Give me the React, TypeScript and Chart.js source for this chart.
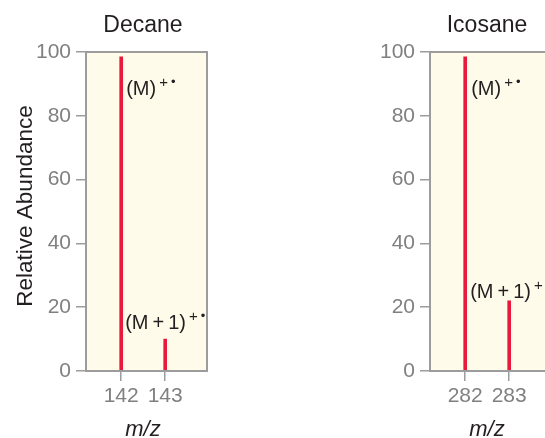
import React, { useEffect, useRef } from 'react';
import Chart from 'chart.js/auto';

const FONT = '"Liberation Sans", Arial, Helvetica, sans-serif';

// ---- data ----
const decaneMz = [142, 143];
const decaneAbundance = [98.5, 10];
const icosaneMz = [282, 283];
const icosaneAbundance = [98.5, 22];
const peakLabels = ['(M)', '(M\u2009+\u20091)'];
const peakCharge = ['+', '+'];
const peakRadical = ['\u2022', '\u2022'];
const yTickValues = [0, 20, 40, 60, 80, 100];
const decaneTickValues = [142, 143];
const icosaneTickValues = [282, 283];
const yAxisTitle = 'Relative Abundance';
const xAxisTitle = 'm/z';

// ---- styles ----
const RED = '#E8193C';
const AXIS = '#9c9c9c';
const TICK = '#808080';
const TEXT = '#231F20';
const CREAM = '#FEFBEA';

type Panel = {
  title: string;
  mz: number[];
  abundance: number[];
  ticks: number[];
  showYTitle: boolean;
  labelDx: number[];
  labelDy: number[];
};

const panels: Panel[] = [
  {
    title: 'Decane',
    mz: decaneMz,
    abundance: decaneAbundance,
    ticks: decaneTickValues,
    showYTitle: true,
    labelDx: [5, -40],
    labelDy: [38, -10],
  },
  {
    title: 'Icosane',
    mz: icosaneMz,
    abundance: icosaneAbundance,
    ticks: icosaneTickValues,
    showYTitle: false,
    labelDx: [6, -39],
    labelDy: [38, -3],
  },
];

function makeChart(canvas: HTMLCanvasElement, panel: Panel) {
  const decor = {
    id: 'decor',
    beforeDraw(chart: any) {
      const { ctx, chartArea: a } = chart;
      ctx.save();
      ctx.fillStyle = CREAM;
      ctx.fillRect(a.left, a.top, a.right - a.left, a.bottom - a.top);
      ctx.restore();
    },
    afterDatasetsDraw(chart: any) {
      const { ctx, chartArea: a } = chart;
      const xs = chart.scales.x;
      const ys = chart.scales.y;
      ctx.save();
      ctx.strokeStyle = AXIS;
      ctx.lineWidth = 2;
      ctx.strokeRect(a.left, a.top, a.right - a.left, a.bottom - a.top);

      // peak annotations
      ctx.fillStyle = TEXT;
      ctx.textBaseline = 'alphabetic';
      ctx.textAlign = 'left';
      panel.mz.forEach((mz, i) => {
        const x = xs.getPixelForValue(mz) + panel.labelDx[i];
        const y = ys.getPixelForValue(panel.abundance[i]) + panel.labelDy[i];
        ctx.font = `20px ${FONT}`;
        ctx.fillText(peakLabels[i], x, y);
        const w = ctx.measureText(peakLabels[i]).width;
        ctx.font = `15px ${FONT}`;
        const px = x + w + 3;
        ctx.fillText(peakCharge[i], px, y - 8);
        const pw = ctx.measureText(peakCharge[i]).width;
        ctx.font = `13px ${FONT}`;
        ctx.fillText(peakRadical[i], px + pw + 3, y - 9);
      });

      // panel title
      const cx = a.left + 57;
      ctx.textAlign = 'center';
      ctx.font = `23px ${FONT}`;
      ctx.fillText(panel.title, cx, 32);

      // x axis title
      ctx.font = `italic 22px ${FONT}`;
      ctx.fillText(xAxisTitle, cx, 436);

      // y axis title
      if (panel.showYTitle) {
        ctx.save();
        ctx.translate(32, 206);
        ctx.rotate(-Math.PI / 2);
        ctx.font = `22.5px ${FONT}`;
        ctx.textAlign = 'center';
        ctx.textBaseline = 'alphabetic';
        ctx.fillText(yAxisTitle, 0, 0);
        ctx.restore();
      }
      ctx.restore();
    },
  };

  return new Chart(canvas, {
    type: 'bar',
    data: {
      datasets: [
        {
          data: panel.mz.map((x, i) => ({ x, y: panel.abundance[i] })),
          backgroundColor: RED,
          borderWidth: 0,
          barThickness: 3,
        },
      ],
    },
    options: {
      animation: false,
      responsive: false,
      maintainAspectRatio: false,
      layout: { padding: { top: 52, right: 65, bottom: 0, left: 0 } },
      plugins: {
        legend: { display: false },
        tooltip: { enabled: false },
        title: { display: false },
      },
      scales: {
        x: {
          type: 'linear',
          min: panel.ticks[0] - 0.8,
          max: panel.ticks[panel.ticks.length - 1] + 0.95,
          offset: false,
          afterBuildTicks: (s: any) => {
            s.ticks = panel.ticks.map((v) => ({ value: v }));
          },
          afterFit: (s: any) => {
            s.height = 67;
          },
          grid: {
            display: true,
            offset: false,
            drawOnChartArea: false,
            drawTicks: true,
            tickLength: 10,
            color: AXIS,
            lineWidth: 1.5,
          },
          border: { display: false },
          ticks: {
            font: { family: FONT, size: 21 },
            color: TICK,
            padding: 3,
            maxRotation: 0,
            autoSkip: false,
          },
        },
        y: {
          min: 0,
          max: 100,
          afterBuildTicks: (s: any) => {
            s.ticks = yTickValues.map((v) => ({ value: v }));
          },
          afterFit: (s: any) => {
            s.width = 86;
          },
          grid: {
            display: true,
            drawOnChartArea: false,
            drawTicks: true,
            tickLength: 10,
            color: AXIS,
            lineWidth: 1.5,
          },
          border: { display: false },
          ticks: {
            font: { family: FONT, size: 21 },
            color: TICK,
            padding: 5,
          },
        },
      },
    } as any,
    plugins: [decor],
  });
}

export default function App() {
  const leftRef = useRef<HTMLCanvasElement>(null);
  const rightRef = useRef<HTMLCanvasElement>(null);

  useEffect(() => {
    const charts: Chart[] = [];
    if (leftRef.current) charts.push(makeChart(leftRef.current, panels[0]));
    if (rightRef.current) charts.push(makeChart(rightRef.current, panels[1]));
    return () => charts.forEach((c) => c.destroy());
  }, []);

  return (
    <div
      style={{
        position: 'absolute',
        left: 0,
        top: 0,
        width: 545,
        height: 438,
        overflow: 'hidden',
        background: '#ffffff',
      }}
    >
      <canvas
        ref={leftRef}
        width={272}
        height={438}
        style={{ position: 'absolute', left: 0, top: 0, width: 272, height: 438 }}
      />
      <canvas
        ref={rightRef}
        width={272}
        height={438}
        style={{ position: 'absolute', left: 344, top: 0, width: 272, height: 438 }}
      />
    </div>
  );
}
